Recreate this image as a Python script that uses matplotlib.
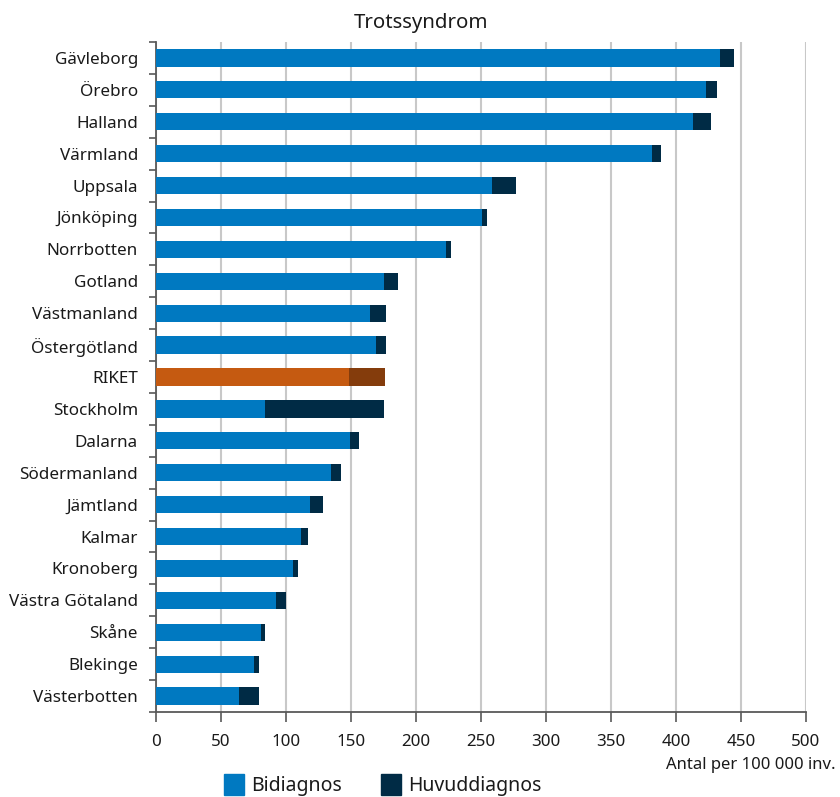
import matplotlib
matplotlib.use("Agg")
import matplotlib.pyplot as plt
import numpy as np
from matplotlib.patches import Patch

plt.rcParams['font.family'] = ['Noto Sans', 'DejaVu Sans']

regions = ["Gävleborg", "Örebro", "Halland", "Värmland", "Uppsala", "Jönköping",
           "Norrbotten", "Gotland", "Västmanland", "Östergötland", "RIKET",
           "Stockholm", "Dalarna", "Södermanland", "Jämtland", "Kalmar",
           "Kronoberg", "Västra Götaland", "Skåne", "Blekinge", "Västerbotten"]
bidiagnos = [433.8, 423.0, 413.3, 381.3, 258.5, 250.8, 223.3, 175.4, 164.3, 168.9,
             148.5, 84.1, 149.0, 134.3, 118.7, 111.5, 105.6, 92.5, 80.5, 75.1, 63.5]
huvuddiagnos = [10.8, 8.3, 13.4, 7.2, 18.7, 3.8, 3.4, 11.0, 12.9, 7.7,
                27.4, 91.3, 6.9, 8.2, 9.5, 5.7, 3.3, 7.7, 3.6, 4.4, 15.4]
xticks = [0, 50, 100, 150, 200, 250, 300, 350, 400, 450, 500]

BLUE = "#0079C1"
NAVY = "#002B45"
ORANGE = "#C55A11"
BROWN = "#843C0C"

fig = plt.figure(figsize=(8.4, 7.97), dpi=100)
ax = fig.add_axes([156/840, 1-712/797, 650/840, 670/797])

n = len(regions)
y = np.arange(n)
c1 = [ORANGE if r == "RIKET" else BLUE for r in regions]
c2 = [BROWN if r == "RIKET" else NAVY for r in regions]
h = 0.54
ax.barh(y, bidiagnos, height=h, color=c1, zorder=3)
ax.barh(y, huvuddiagnos, left=bidiagnos, height=h, color=c2, zorder=3)

ax.set_ylim(n - 0.5, -0.5)
ax.set_xlim(0, 500)
ax.set_yticks(y)
ax.set_yticklabels(regions, fontsize=12.3, color="#1a1a1a")
ax.set_yticks(np.arange(-0.5, n, 1), minor=True)
ax.tick_params(axis='y', which='major', length=0, pad=13)
ax.tick_params(axis='y', which='minor', length=5, width=1.2, color="#595959", direction='out')
ax.set_xticks(xticks)
ax.set_xticklabels([str(v) for v in xticks], fontsize=12.2, color="#1a1a1a")
ax.tick_params(axis='x', length=7, width=1.2, color="#595959", pad=9)

ax.grid(axis='x', color="#c8c8c8", linewidth=1.5, zorder=0)
ax.set_axisbelow(True)
for s in ['top', 'right']:
    ax.spines[s].set_visible(False)
for s in ['left', 'bottom']:
    ax.spines[s].set_color("#595959")
    ax.spines[s].set_linewidth(1.3)

fig.text(421/840, 1-23/797, "Trotssyndrom", ha='center', va='center', fontsize=14.7, color="#1a1a1a")
fig.text(836/840, 1-765/797, "Antal per 100 000 inv.", ha='right', va='center', fontsize=12, color="#1a1a1a")

handles = [Patch(color=BLUE, label="Bidiagnos"), Patch(color=NAVY, label="Huvuddiagnos")]
fig.legend(handles=handles, loc='center', bbox_to_anchor=(383/840, 1-785/797), ncol=2,
           frameon=False, fontsize=14.0, handlelength=1.0, handleheight=1.3,
           columnspacing=2.0, handletextpad=0.4, labelcolor="#1a1a1a")

fig.savefig("out.png", dpi=100)
